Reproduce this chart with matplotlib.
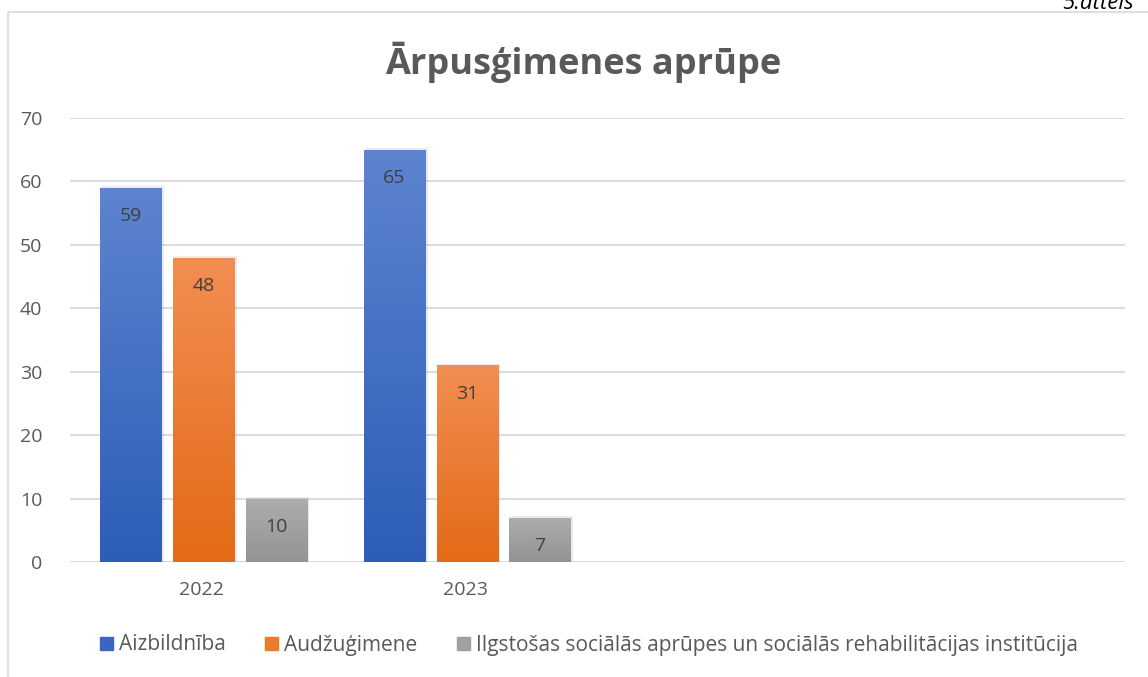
import matplotlib
matplotlib.use("Agg")
import matplotlib.pyplot as plt
import numpy as np
from matplotlib.patches import Rectangle
from matplotlib.colors import LinearSegmentedColormap

plt.rcParams['font.family'] = ['Open Sans', 'DejaVu Sans']

title = "Ārpusģimenes aprūpe"
categories = ["2022", "2023", "", ""]
series_names = ["Aizbildnība", "Audžuģimene",
                "Ilgstošas sociālās aprūpes un sociālās rehabilitācijas institūcija"]
aizbildniba = [59, 65, None, None]
audzugimene = [48, 31, None, None]
institucija = [10, 7, None, None]
series_values = [aizbildniba, audzugimene, institucija]

top_colors = ["#5D84CF", "#F28E52", "#ADADAD"]
bottom_colors = ["#2D5DB8", "#E36A16", "#939393"]
legend_colors = ["#3A66C0", "#EA7A2C", "#A0A0A0"]

W, H = 1148, 677
fig = plt.figure(figsize=(W / 100, H / 100), dpi=100)
ax = fig.add_axes([70 / W, 1 - 562 / H, (1125 - 70) / W, (562 - 118) / H])

x = np.arange(len(categories))
step = 0.276
width = 0.232
grad = np.linspace(1, 0, 256).reshape(-1, 1)

for i, (name, vals) in enumerate(zip(series_names, series_values)):
    xs = [xi + (i - 1) * step + 0.006 for xi, v in zip(x, vals) if v is not None]
    vs = [v for v in vals if v is not None]
    bars = ax.bar(xs, vs, width=width, color=bottom_colors[i], lw=0, zorder=3, label=name)
    cmap = LinearSegmentedColormap.from_list("g%d" % i, [bottom_colors[i], top_colors[i]])
    for b, v in zip(bars, vs):
        bx, by = b.get_x(), b.get_y()
        bw, bh = b.get_width(), b.get_height()
        sh = Rectangle((bx + 0.006, by), bw + 0.004, bh + 0.25, color="#000000",
                       alpha=0.08, zorder=2.5, lw=0)
        ax.add_patch(sh)
        im = ax.imshow(grad, extent=(bx, bx + bw, by, by + bh), aspect='auto',
                       cmap=cmap, zorder=3.5, interpolation='bilinear')
        im.set_clip_path(b)
        ax.text(bx + bw / 2, v - 4.5, str(v), ha='center', va='center',
                fontsize=14, color="#404040", zorder=5)

ax.set_xlim(-0.5, len(categories) - 0.5)
ax.set_ylim(0, 70)
ax.set_yticks(np.arange(0, 71, 10))
ax.set_xticks(x)
ax.set_xticklabels(categories)
ax.grid(axis='y', color="#D9D9D9", lw=1.3, zorder=0)
ax.set_axisbelow(True)
for s in ax.spines.values():
    s.set_visible(False)
ax.tick_params(axis='both', length=0, labelsize=14, colors="#595959")
ax.tick_params(axis='y', pad=20)
ax.tick_params(axis='x', pad=14)
ax.axhline(0, color="#D9D9D9", lw=1.3, zorder=1)

fig.text(583 / W, 1 - 62 / H, title, ha='center', va='center', fontsize=26,
         fontweight='bold', color="#595959")

handles = [Rectangle((0, 0), 1, 1, color=c) for c in legend_colors]
fig.legend(handles, series_names, loc='center', bbox_to_anchor=(589 / W, 1 - 645 / H),
           ncol=3, frameon=False, fontsize=15, labelcolor="#595959",
           handlelength=0.6, handleheight=0.6, handletextpad=0.3, columnspacing=1.9)

fig.patches.append(Rectangle((8 / W, -0.1), 1.2, 1 - 12 / H + 0.1, transform=fig.transFigure,
                             fill=False, ec="#D9D9D9", lw=1.2))
fig.text(1062 / W, 1 - 9 / H, "5.attēls", ha='left', va='baseline', fontsize=16,
         style='italic', color="#000000")

fig.savefig("out.png", dpi=100)
